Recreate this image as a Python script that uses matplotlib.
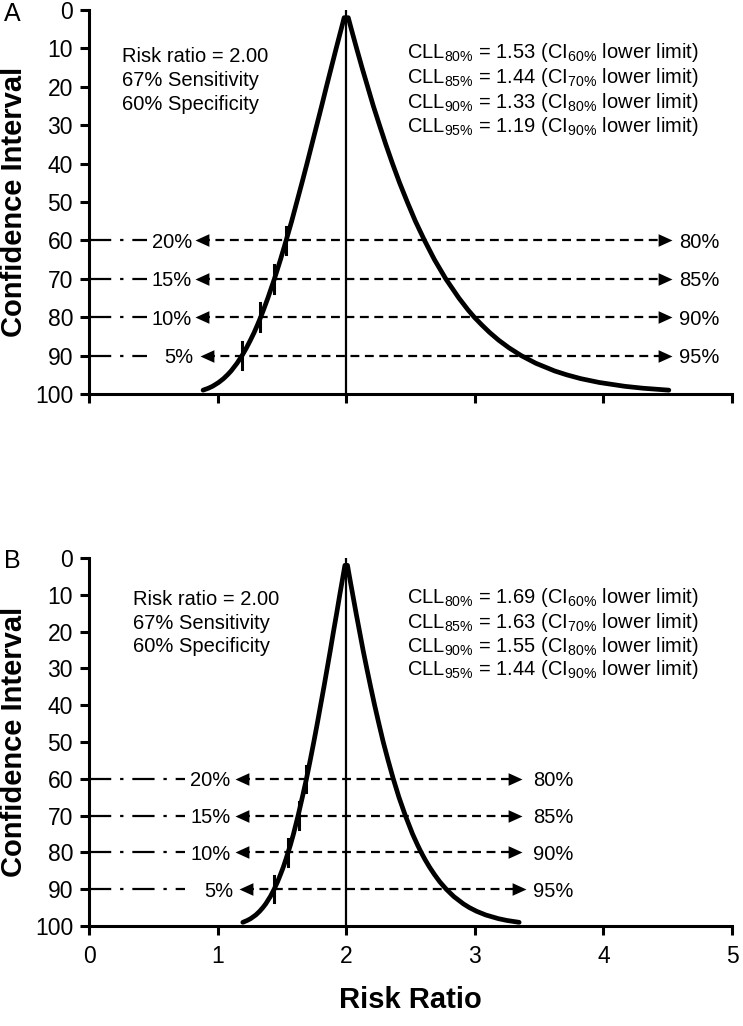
import matplotlib
matplotlib.use("Agg")
import matplotlib.pyplot as plt

# ---------------- data ----------------
ci_levels = [2, 5, 10, 15, 20, 25, 30, 35, 40, 45, 50, 55, 60, 65, 70, 75, 78, 80, 82, 84, 86, 88,
             90, 92, 94, 95, 96, 97, 98, 98.5, 99]
a_lower = [1.984, 1.961, 1.922, 1.884, 1.846, 1.809, 1.771, 1.733, 1.695, 1.656, 1.616, 1.576,
           1.533, 1.489, 1.442, 1.391, 1.358, 1.335, 1.310, 1.284, 1.255, 1.224,
           1.190, 1.151, 1.105, 1.077, 1.046, 1.008, 0.960, 0.928, 0.887]
a_upper = [2.016, 2.040, 2.081, 2.123, 2.167, 2.211, 2.259, 2.308, 2.360, 2.415, 2.475, 2.538,
           2.609, 2.686, 2.774, 2.876, 2.945, 2.996, 3.054, 3.116, 3.186, 3.267,
           3.361, 3.475, 3.621, 3.714, 3.824, 3.968, 4.167, 4.309, 4.509]
b_lower = [1.990, 1.975, 1.950, 1.926, 1.901, 1.877, 1.852, 1.827, 1.801, 1.775, 1.748, 1.720,
           1.691, 1.659, 1.626, 1.590, 1.566, 1.548, 1.530, 1.511, 1.489, 1.466,
           1.440, 1.410, 1.374, 1.352, 1.327, 1.297, 1.257, 1.230, 1.196]
b_upper = [2.010, 2.025, 2.051, 2.077, 2.104, 2.131, 2.160, 2.190, 2.221, 2.254, 2.288, 2.326,
           2.366, 2.410, 2.460, 2.516, 2.555, 2.583, 2.614, 2.648, 2.686, 2.728,
           2.778, 2.837, 2.912, 2.958, 3.014, 3.085, 3.183, 3.251, 3.345]

risk_ratio = 2.0
line_ci = [60, 70, 80, 90]
cll_levels = ["80", "85", "90", "95"]
ci_names = ["60", "70", "80", "90"]
a_cll = [1.53, 1.44, 1.33, 1.19]
b_cll = [1.69, 1.63, 1.55, 1.44]
left_labels = ["20%", "15%", "10%", "5%"]
right_labels = ["80%", "85%", "90%", "95%"]
info_lines = ["Risk ratio = 2.00", "67% Sensitivity", "60% Specificity"]
x_ticks = [0, 1, 2, 3, 4, 5]
y_ticks = [0, 10, 20, 30, 40, 50, 60, 70, 80, 90, 100]

# ---------------- style ----------------
plt.rcParams['font.family'] = ['Liberation Sans', 'DejaVu Sans']
plt.rcParams['mathtext.fontset'] = 'custom'
plt.rcParams['mathtext.rm'] = 'Liberation Sans'
plt.rcParams['mathtext.it'] = 'Liberation Sans:italic'
plt.rcParams['mathtext.bf'] = 'Liberation Sans:bold'

W, H = 743, 1026
fig = plt.figure(figsize=(W / 100, H / 100), dpi=100)

left_px, right_px = 89, 732
axA = fig.add_axes([left_px / W, 1 - 394 / H, (right_px - left_px) / W, 384 / H])
axB = fig.add_axes([left_px / W, 1 - 926 / H, (right_px - left_px) / W, 368 / H])

lm_left = [(0, 0), (1.1, 0.5), (1.1, -0.5), (0, 0)]
lm_right = [(0, 0), (-1.1, 0.5), (-1.1, -0.5), (0, 0)]

panels = [
    dict(ax=axA, lower=a_lower, upper=a_upper, cll=a_cll, name="A", name_y=14,
         ltip=[0.824, 0.824, 0.824, 0.86], rtip=[4.53, 4.53, 4.53, 4.53],
         dd_end=0.45, llab=[0.80, 0.80, 0.80, 0.81], rlab=4.59,
         info_x=0.257, info_y=[13.5, 19.8, 26.0],
         cll_x=2.47, cll_y=[12.5, 19.0, 25.5, 31.8], xlabels=False, yc=202),
    dict(ax=axB, lower=b_lower, upper=b_upper, cll=b_cll, name="B", name_y=561,
         ltip=[1.135, 1.135, 1.135, 1.165], rtip=[3.37, 3.37, 3.37, 3.40],
         dd_end=0.75, llab=[1.10, 1.10, 1.10, 1.12], rlab=3.45,
         info_x=0.34, info_y=[12.8, 19.3, 25.6],
         cll_x=2.47, cll_y=[12.3, 19.1, 25.6, 31.9], xlabels=True, yc=742),
]

for p in panels:
    ax = p["ax"]
    ax.set_xlim(0, 5)
    ax.set_ylim(100, 0)
    for s in ["top", "right"]:
        ax.spines[s].set_visible(False)
    for s in ["left", "bottom"]:
        ax.spines[s].set_linewidth(2.2)
    ax.set_xticks(x_ticks)
    ax.set_yticks(y_ticks)
    ax.tick_params(axis='both', direction='out', length=6.5, width=2.2, labelsize=16.5)
    ax.tick_params(axis='y', pad=5)
    ax.tick_params(axis='x', pad=7)
    if not p["xlabels"]:
        ax.set_xticklabels([])

    # vertical line at the risk ratio
    ax.plot([risk_ratio, risk_ratio], [0, 100], color='black', lw=1.6, zorder=3)

    # curve
    xs = list(reversed(p["lower"])) + list(p["upper"])
    ys = list(reversed(ci_levels)) + list(ci_levels)
    ax.plot(xs, ys, color='black', lw=3.4, solid_joinstyle='round',
            solid_capstyle='round', zorder=4, clip_on=False)

    for i, y in enumerate(line_ci):
        # tick mark on curve at lower limit
        ax.plot([p["cll"][i], p["cll"][i]], [y - 3.6, y + 3.6], color='black', lw=2.2, zorder=5)
        # dash-dot segment from the axis
        ax.plot([0, p["dd_end"]], [y, y], color='black', lw=1.6,
                linestyle=(0, (10, 4, 1.5, 4)), zorder=2, clip_on=False)
        # dashed double arrow
        ax.plot([p["ltip"][i] + 0.05, p["rtip"][i] - 0.05], [y, y], color='black', lw=1.6,
                linestyle=(0, (4, 2.5)), zorder=2)
        ax.plot([p["ltip"][i]], [y], marker=lm_left, markersize=20, color='black',
                markeredgewidth=0, zorder=6)
        ax.plot([p["rtip"][i]], [y], marker=lm_right, markersize=20, color='black',
                markeredgewidth=0, zorder=6, clip_on=False)
        ax.text(p["llab"][i], y, left_labels[i], ha='right', va='center_baseline', fontsize=14.5)
        ax.text(p["rlab"], y, right_labels[i], ha='left', va='center_baseline', fontsize=14.5)

    for t, yy in zip(info_lines, p["info_y"]):
        ax.text(p["info_x"], yy, t, ha='left', va='baseline', fontsize=14.5)

    for i, yy in enumerate(p["cll_y"]):
        s = (r"CLL$_{\mathrm{%s\%%}}$ = %.2f (CI$_{\mathrm{%s\%%}}$ lower limit)"
             % (cll_levels[i], p["cll"][i], ci_names[i]))
        ax.text(p["cll_x"], yy, s, ha='left', va='baseline', fontsize=14.5)

    fig.text(4 / W, 1 - p["name_y"] / H, p["name"], ha='left', va='center', fontsize=18)
    fig.text(14 / W, 1 - p["yc"] / H, "Confidence Interval", rotation=90, ha='center',
             va='center', fontsize=21, fontweight='bold')

fig.text(410 / W, 1 - 1000 / H, "Risk Ratio", ha='center', va='center',
         fontsize=21, fontweight='bold')

fig.savefig("out.png", dpi=100)
